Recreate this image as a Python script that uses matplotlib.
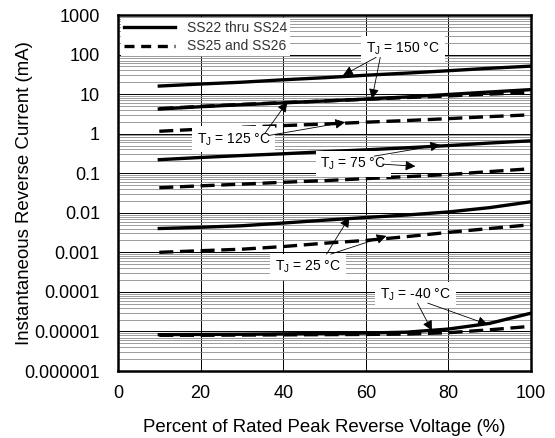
import matplotlib
matplotlib.use("Agg")
import matplotlib.pyplot as plt
from matplotlib.ticker import LogLocator, FixedLocator, NullFormatter

plt.rcParams['font.family'] = ['Liberation Sans', 'DejaVu Sans']

x = [10, 20, 30, 40, 50, 60, 70, 80, 90, 100]

solid_150 = [16, 18, 20, 23, 26, 30, 34, 39, 45, 51]
dashed_150 = [4.3, 4.9, 5.5, 6.1, 6.7, 7.4, 8.2, 9.0, 10.0, 11.0]
solid_125 = [4.2, 4.8, 5.4, 6.0, 6.7, 7.5, 8.5, 9.8, 11.3, 13.0]
dashed_125 = [1.15, 1.3, 1.45, 1.6, 1.75, 1.95, 2.15, 2.4, 2.7, 3.0]
solid_75 = [0.22, 0.25, 0.28, 0.31, 0.35, 0.39, 0.44, 0.5, 0.58, 0.66]
dashed_75 = [0.043, 0.048, 0.053, 0.059, 0.065, 0.073, 0.082, 0.093, 0.11, 0.13]
solid_25 = [0.004, 0.0043, 0.0047, 0.0055, 0.0065, 0.0076, 0.0088, 0.0105, 0.0135, 0.019]
dashed_25 = [0.001, 0.0011, 0.0012, 0.0014, 0.0017, 0.002, 0.0025, 0.0032, 0.004, 0.005]
solid_m40 = [8.3e-6, 8.4e-6, 8.5e-6, 8.7e-6, 8.9e-6, 9.1e-6, 9.6e-6, 1.15e-5, 1.6e-5, 2.9e-5]
dashed_m40 = [8.0e-6, 8.0e-6, 8.1e-6, 8.2e-6, 8.3e-6, 8.4e-6, 8.6e-6, 9.3e-6, 1.1e-5, 1.35e-5]

ytick_vals = [1e-6, 1e-5, 1e-4, 1e-3, 1e-2, 1e-1, 1, 10, 100, 1000]
ytick_labels = ["0.000001", "0.00001", "0.0001", "0.001", "0.01", "0.1", "1", "10", "100", "1000"]
xtick_vals = [0, 20, 40, 60, 80, 100]

fig = plt.figure(figsize=(5.55, 4.38), dpi=100)
ax = fig.add_axes([118/555, 1 - 371/438, (531-118)/555, (371-15)/438])

ax.set_yscale('log')
ax.set_xlim(0, 100)
ax.set_ylim(1e-6, 1e3)

ax.yaxis.set_major_locator(FixedLocator(ytick_vals))
ax.set_yticklabels(ytick_labels)
ax.yaxis.set_minor_locator(LogLocator(base=10, subs=range(2, 10), numticks=50))
ax.yaxis.set_minor_formatter(NullFormatter())
ax.set_xticks(xtick_vals)

ax.grid(True, which='minor', axis='y', color='#8c8c8c', lw=0.6)
ax.grid(True, which='major', axis='y', color='black', lw=0.7)
ax.grid(True, which='major', axis='x', color='black', lw=0.7)
ax.set_axisbelow(True)
ax.tick_params(which='both', length=0, labelsize=13)
ax.tick_params(axis='y', pad=13)
ax.tick_params(axis='x', pad=10)
for s in ax.spines.values():
    s.set_linewidth(1.8)

lw = 2.4
dash = (4.2, 2.0)
l1, = ax.plot(x, solid_150, color='black', lw=lw)
l2, = ax.plot(x, dashed_150, color='black', lw=lw, ls=(0, dash))
ax.plot(x, solid_125, color='black', lw=lw)
ax.plot(x, dashed_125, color='black', lw=lw, ls=(0, dash))
ax.plot(x, solid_75, color='black', lw=lw)
ax.plot(x, dashed_75, color='black', lw=lw, ls=(0, dash))
ax.plot(x, solid_25, color='black', lw=lw)
ax.plot(x, dashed_25, color='black', lw=lw, ls=(0, dash))
ax.plot(x, solid_m40, color='black', lw=lw)
ax.plot(x, dashed_m40, color='black', lw=lw, ls=(0, dash))

leg = ax.legend([l1, l2], ["SS22 thru SS24", "SS25 and SS26"], loc='upper left',
                fontsize=10, frameon=True, facecolor='white', edgecolor='none',
                framealpha=1, borderaxespad=0.2, handlelength=3.7, handletextpad=0.9,
                borderpad=0.2, labelspacing=0.35, fancybox=False)
leg.get_lines()[1].set_dashes((3.0, 2.0))
for t in leg.get_texts():
    t.set_color('#333333')

bbox = dict(boxstyle='square,pad=0.35', fc='white', ec='none')
ap = dict(arrowstyle='-|>', color='black', lw=0.6, mutation_scale=15, shrinkA=0, shrinkB=0)

def label(txt, xy, arrows, src):
    ax.text(xy[0], xy[1], txt, ha='center', va='center', fontsize=10, bbox=bbox, zorder=6)
    for a, s in zip(arrows, src):
        ax.annotate('', xy=a, xytext=s, arrowprops=ap, zorder=7)

label("T$_\\mathregular{J}$ = 150 °C", (69, 140), [(54.5, 30), (61.5, 7.6)], [(62.5, 85), (63.5, 85)])
label("T$_\\mathregular{J}$ = 125 °C", (28, 0.72), [(41, 6.3), (55, 1.95)], [(35.5, 1.0), (36.5, 0.9)])
label("T$_\\mathregular{J}$ = 75 °C", (57, 0.17), [(78, 0.52), (72, 0.15)], [(62, 0.27), (64, 0.17)])
label("T$_\\mathregular{J}$ = 25 °C", (46, 0.00043), [(56, 0.0077), (65, 0.0026)], [(50.5, 0.0009), (51.5, 0.0009)])
label("T$_\\mathregular{J}$ = -40 °C", (72, 8.5e-5), [(76, 1.05e-5), (89.5, 1.5e-5)], [(72.5, 5.2e-5), (75, 5.2e-5)])

ax.set_xlabel("Percent of Rated Peak Reverse Voltage (%)", fontsize=13.4)
ax.set_ylabel("Instantaneous Reverse Current (mA)", fontsize=13.4)
ax.yaxis.set_label_coords(-0.205, 0.5)
ax.xaxis.set_label_coords(0.5, -0.135)

fig.savefig("out.png", dpi=100)
